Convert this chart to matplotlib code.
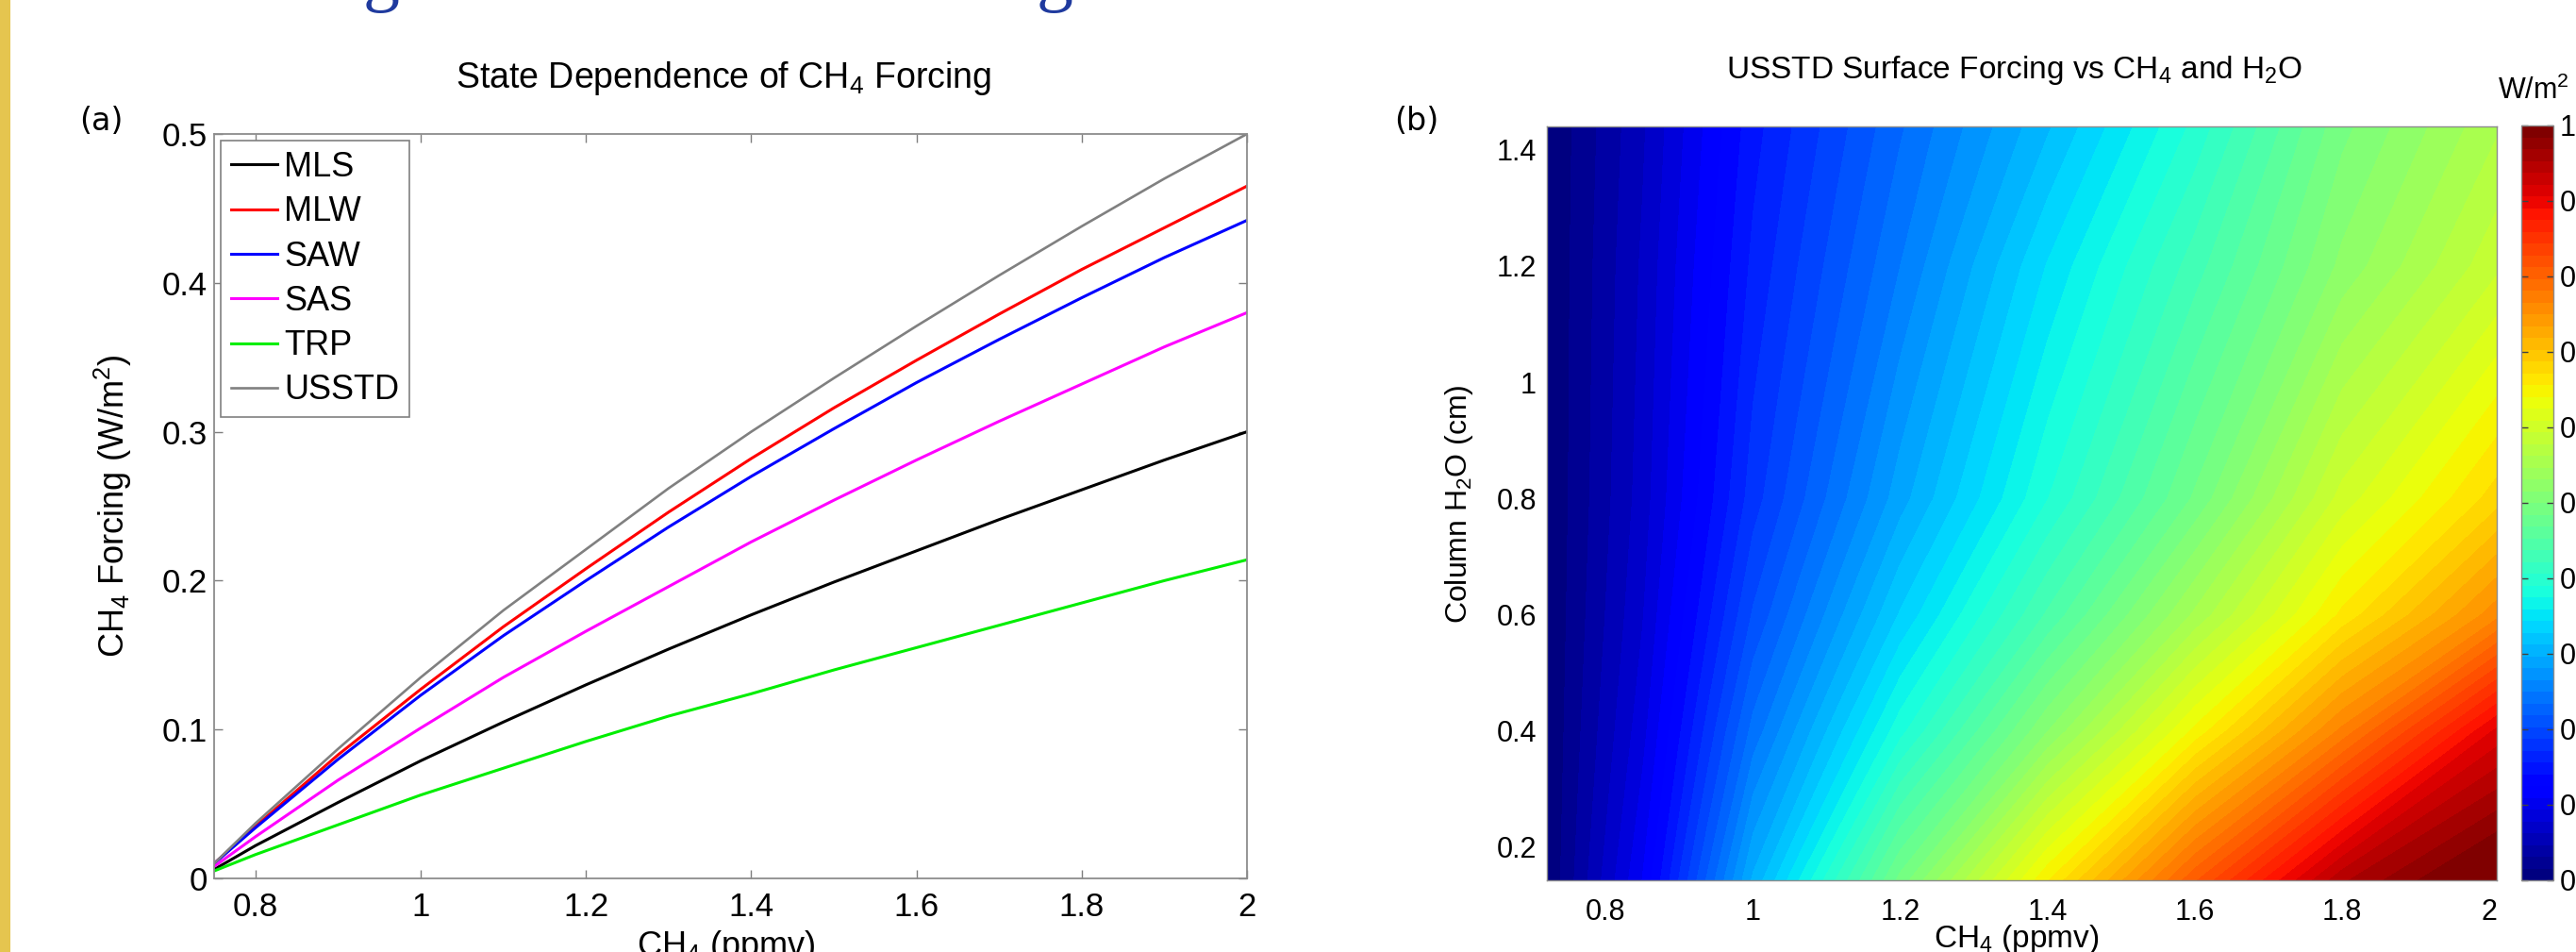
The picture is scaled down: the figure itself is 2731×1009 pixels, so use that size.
import numpy as np
import matplotlib
matplotlib.use("Agg")
import matplotlib.pyplot as plt
from matplotlib import cm, colors
from matplotlib.patches import Rectangle

plt.rcParams['font.family'] = ['Liberation Sans', 'DejaVu Sans']
plt.rcParams['mathtext.fontset'] = 'custom'
plt.rcParams['mathtext.rm'] = 'Liberation Sans'
plt.rcParams['mathtext.it'] = 'Liberation Sans:italic'
plt.rcParams['mathtext.bf'] = 'Liberation Sans:bold'

# ---------------- data: panel (a) ----------------
ch4 = [0.75, 0.8, 0.9, 1.0, 1.1, 1.2, 1.3, 1.4, 1.5, 1.6, 1.7, 1.8, 1.9, 2.0]
mls = [0.006, 0.022, 0.051, 0.079, 0.105, 0.130, 0.154, 0.177, 0.199, 0.220, 0.241, 0.261, 0.281, 0.300]
mlw = [0.010, 0.035, 0.083, 0.127, 0.169, 0.208, 0.246, 0.282, 0.316, 0.348, 0.379, 0.409, 0.437, 0.465]
saw = [0.010, 0.034, 0.080, 0.123, 0.163, 0.200, 0.236, 0.270, 0.302, 0.333, 0.362, 0.390, 0.417, 0.442]
sas = [0.008, 0.028, 0.066, 0.101, 0.135, 0.166, 0.196, 0.226, 0.254, 0.281, 0.307, 0.332, 0.357, 0.380]
trp = [0.005, 0.016, 0.036, 0.056, 0.074, 0.092, 0.109, 0.124, 0.140, 0.155, 0.170, 0.185, 0.200, 0.214]
usstd = [0.010, 0.037, 0.087, 0.135, 0.180, 0.221, 0.262, 0.300, 0.336, 0.371, 0.405, 0.438, 0.470, 0.500]
series_names = ['MLS', 'MLW', 'SAW', 'SAS', 'TRP', 'USSTD']
x_ticks_a = [0.8, 1.0, 1.2, 1.4, 1.6, 1.8, 2.0]
x_ticklabels_a = ['0.8', '1', '1.2', '1.4', '1.6', '1.8', '2']
y_ticks_a = [0, 0.1, 0.2, 0.3, 0.4, 0.5]
y_ticklabels_a = ['0', '0.1', '0.2', '0.3', '0.4', '0.5']

# ---------------- data: panel (b) ----------------
grid_ch4 = [0.72, 0.85, 1.0, 1.2, 1.4, 1.6, 1.8, 2.01]
grid_h2o = [0.143, 0.4, 0.6, 0.8, 1.2, 1.44]
forcing_b = [
    [0.0, 0.110, 0.300, 0.490, 0.655, 0.810, 0.950, 1.020],
    [0.0, 0.088, 0.240, 0.385, 0.515, 0.645, 0.770, 0.910],
    [0.0, 0.077, 0.205, 0.330, 0.440, 0.550, 0.660, 0.760],
    [0.0, 0.070, 0.180, 0.290, 0.390, 0.487, 0.600, 0.680],
    [0.0, 0.065, 0.160, 0.250, 0.345, 0.430, 0.520, 0.590],
    [0.0, 0.060, 0.150, 0.232, 0.310, 0.395, 0.495, 0.560],
]
x_ticks_b = [0.8, 1.0, 1.2, 1.4, 1.6, 1.8, 2.0]
x_ticklabels_b = ['0.8', '1', '1.2', '1.4', '1.6', '1.8', '2']
y_ticks_b = [0.2, 0.4, 0.6, 0.8, 1.0, 1.2, 1.4]
y_ticklabels_b = ['0.2', '0.4', '0.6', '0.8', '1', '1.2', '1.4']
cbar_ticks = [0, 0.1, 0.2, 0.3, 0.4, 0.5, 0.6, 0.7, 0.8, 0.9, 1.0]
cbar_ticklabels = ['0', '0.1', '0.2', '0.3', '0.4', '0.5', '0.6', '0.7', '0.8', '0.9', '1']

# ---------------- figure ----------------
W, H = 2731, 1009
fig = plt.figure(figsize=(W / 100, H / 100), dpi=100)


def fx(p):
    return p / W


def fy(p):
    return 1 - p / H


# yellow poster strip and cut-off heading glyphs
fig.patches.append(Rectangle((0, 0), fx(11), 1, transform=fig.transFigure,
                             facecolor='#E5C54F', edgecolor='none'))
for gx in (385, 1099):
    fig.text(fx(gx), fy(-3), 'g', fontsize=56, family='Liberation Serif',
             color='#1f3a9e', va='baseline', ha='left')

# ---------------- panel (a) ----------------
ax1 = fig.add_axes([fx(227), fy(931), fx(1322) - fx(227), (931 - 142) / H])
line_colors = ['#000000', '#ff0000', '#0000ff', '#ff00ff', '#00ee00', '#808080']
line_data = [mls, mlw, saw, sas, trp, usstd]
for name, vals, c in zip(series_names, line_data, line_colors):
    ax1.plot(ch4, vals, color=c, lw=2.2 if name != 'USSTD' else 1.9, label=name)
ax1.set_xlim(0.75, 2.0)
ax1.set_ylim(0, 0.5)
ax1.set_xticks(x_ticks_a)
ax1.set_xticklabels(x_ticklabels_a)
ax1.set_yticks(y_ticks_a)
ax1.set_yticklabels(y_ticklabels_a)
ax1.tick_params(direction='in', length=6.5, width=1.0, color='#7f7f7f',
                labelcolor='black', labelsize=25, top=True, right=True)
ax1.tick_params(axis='x', pad=10)
ax1.tick_params(axis='y', pad=5)
for s in ax1.spines.values():
    s.set_color('#8c8c8c')
    s.set_linewidth(1.3)
leg = ax1.legend(loc='upper left', bbox_to_anchor=(0, 1), fontsize=26,
                 handlelength=1.35, handletextpad=0.2, labelspacing=0.34,
                 borderpad=0.3, borderaxespad=0.2, fancybox=False,
                 framealpha=1, edgecolor='#808080')
leg.get_frame().set_linewidth(1.2)

fig.text(fx(767), fy(93), r'State Dependence of CH$_4$ Forcing', fontsize=27,
         ha='center', va='baseline')
fig.text(fx(770), fy(1013), r'CH$_4$ (ppmv)', fontsize=26, ha='center', va='baseline')
fig.text(fx(120), fy(536), r'CH$_4$ Forcing (W/m$^2$)', fontsize=26, rotation=90,
         ha='center', va='center')
fig.text(fx(107), fy(128), '(a)', fontsize=24, family='DejaVu Sans',
         ha='center', va='center')

# ---------------- panel (b) ----------------
ax2 = fig.add_axes([fx(1640), fy(933), fx(2647) - fx(1640), (933 - 134) / H])
jet64 = plt.get_cmap('jet', 64)
levels = np.linspace(0, 1, 65)
ax2.contourf(grid_ch4, grid_h2o, np.array(forcing_b), levels=levels, cmap=jet64,
             extend='both')
ax2.set_xlim(0.72, 2.01)
ax2.set_ylim(0.143, 1.44)
ax2.set_xticks(x_ticks_b)
ax2.set_xticklabels(x_ticklabels_b)
ax2.set_yticks(y_ticks_b)
ax2.set_yticklabels(y_ticklabels_b)
ax2.tick_params(length=0, labelsize=22)
ax2.tick_params(axis='x', pad=14)
ax2.tick_params(axis='y', pad=8)
for s in ax2.spines.values():
    s.set_color('#8c8c8c')
    s.set_linewidth(1.0)

fig.text(fx(2136), fy(83), r'USSTD Surface Forcing vs CH$_4$ and H$_2$O', fontsize=24,
         ha='center', va='baseline')
fig.text(fx(2138), fy(1004), r'CH$_4$ (ppmv)', fontsize=24, ha='center', va='baseline')
fig.text(fx(1547), fy(534), r'Column H$_2$O (cm)', fontsize=23, rotation=90,
         ha='center', va='center')
fig.text(fx(1502), fy(128), '(b)', fontsize=24, family='DejaVu Sans',
         ha='center', va='center')

# colorbar
cax = fig.add_axes([fx(2673), fy(933), fx(2707) - fx(2673), (933 - 133) / H])
sm = cm.ScalarMappable(norm=colors.Normalize(0, 1), cmap=jet64)
cb = fig.colorbar(sm, cax=cax, ticks=cbar_ticks)
cb.ax.set_yticklabels(cbar_ticklabels)
cb.ax.tick_params(direction='in', length=5, width=1.0, color='#404040',
                  labelsize=22, pad=5, left=True, right=True)
cb.outline.set_edgecolor('#8c8c8c')
cb.outline.set_linewidth(1.0)
fig.text(fx(2648), fy(105), r'W/m$^2$', fontsize=22, ha='left', va='baseline')

fig.savefig('out.png', dpi=100)
